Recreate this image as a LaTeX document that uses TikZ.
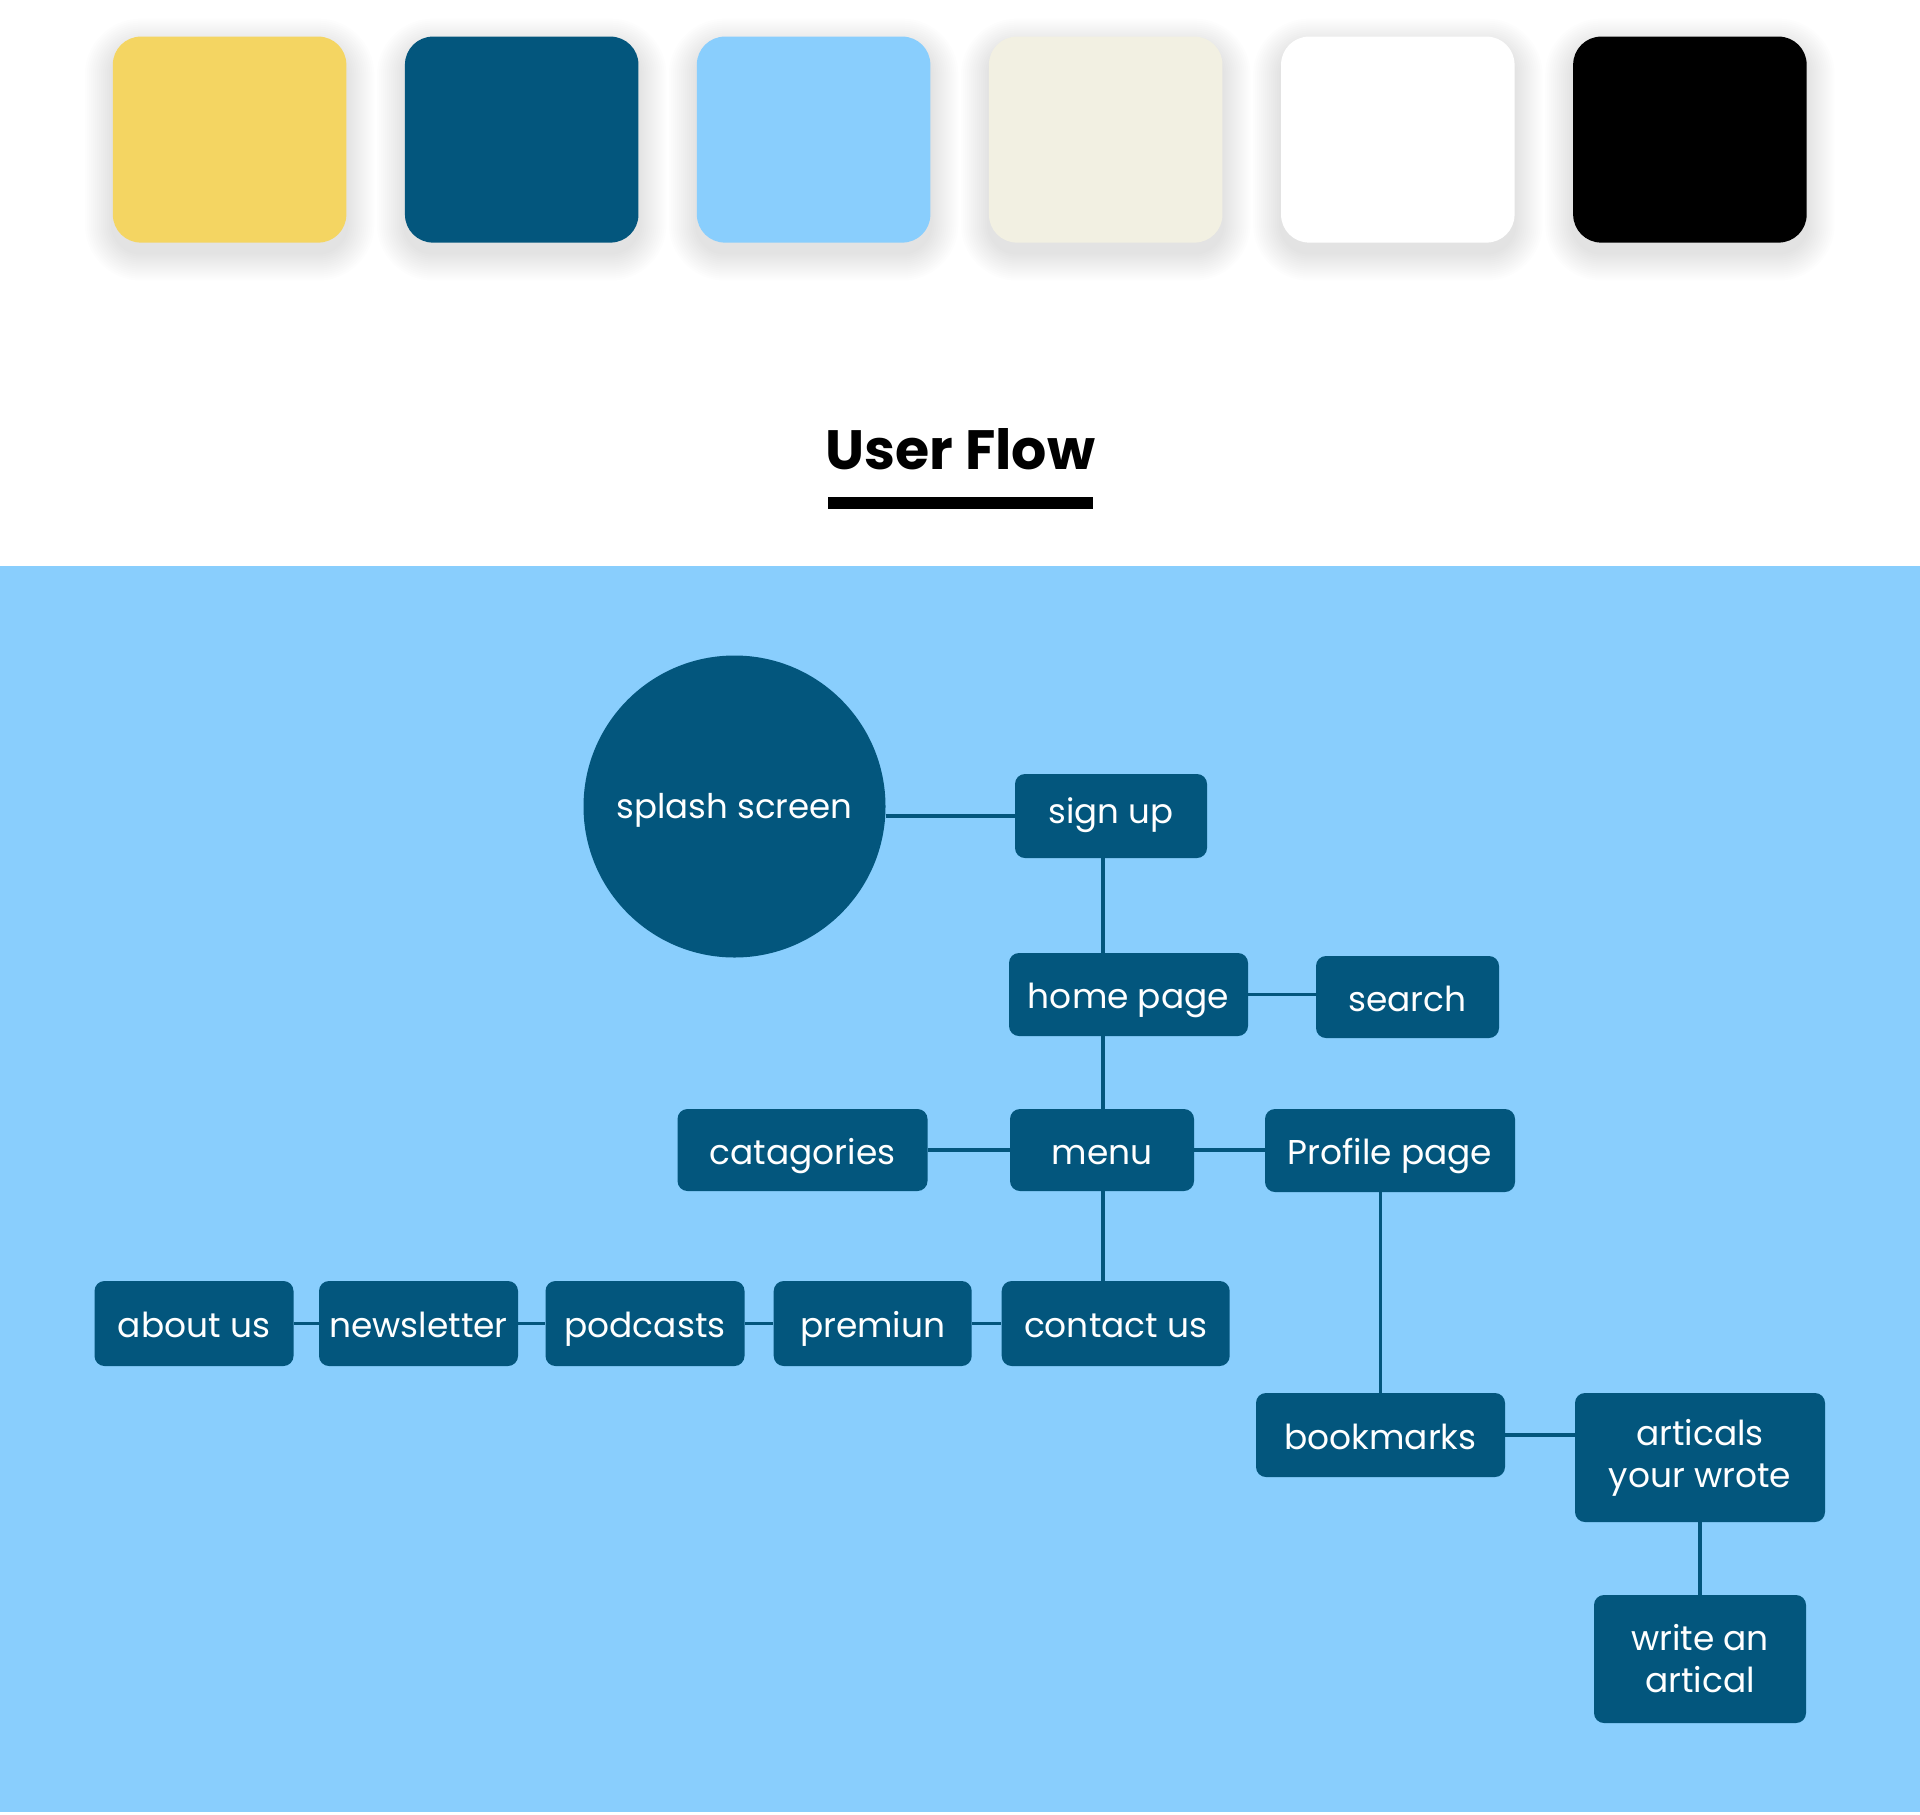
\documentclass[tikz,border=0pt]{standalone}
\usepackage{fontspec}
\setmainfont{Poppins}
\definecolor{nodeblue}{HTML}{03567D}
\definecolor{bgblue}{HTML}{89CEFD}
\definecolor{swyellow}{HTML}{F4D562}
\definecolor{swcream}{HTML}{F2F0E2}
\tikzset{
  swatch/.style={rectangle, rounded corners=14pt, minimum width=116.75pt, minimum height=103pt, inner sep=0pt},
  box/.style={rectangle, rounded corners=5pt, fill=nodeblue, text=white, inner sep=0pt, align=center,
    font=\fontsize{17.2}{21}\selectfont},
  oneline/.style={text height=16pt, text depth=2pt},
  link/.style={draw=nodeblue, line width=1.75pt}
}
\begin{document}
\begin{tikzpicture}[x=0.5pt, y=-0.5pt]
\useasboundingbox (0,0) rectangle (1920,1814);
\fill[white] (0,0) rectangle (1920,1814);
% palette shadows
\foreach \cx in {229.6,521.7,813.6,1105.7,1397.8,1689.9}{
  \foreach \i in {1,...,14}{
    \fill[black, opacity=0.0085, rounded corners={14pt+\i pt}]
      ({\cx-116.75-\i*2},{139.6-103+10-\i*2}) rectangle ({\cx+116.75+\i*2},{139.6+103+10+\i*2});
  }
}
% palette
\node[swatch, fill=swyellow] (sw1) at (229.6,139.6) {};
\node[swatch, fill=nodeblue] (sw2) at (521.7,139.6) {};
\node[swatch, fill=bgblue]   (sw3) at (813.6,139.6) {};
\node[swatch, fill=swcream]  (sw4) at (1105.7,139.6) {};
\node[swatch, fill=white]    (sw5) at (1397.8,139.6) {};
\node[swatch, fill=black]    (sw6) at (1689.9,139.6) {};
% title
\node[anchor=base, font=\fontsize{27.7}{30}\selectfont\bfseries] (title) at (960.5,469) {User Flow};
\fill[black] (828,497) rectangle (1093,509);
% background
\fill[bgblue] (0,566) rectangle (1920,1812);
% nodes
\node[circle, fill=nodeblue, text=white, minimum size=151pt, inner sep=0pt, text height=14pt, text depth=2.2pt,
  font=\fontsize{17}{21}\selectfont] (splash) at (734.5,806.5) {splash screen};
\node[box, text height=12pt, text depth=5pt, font=\fontsize{17}{21}\selectfont, minimum width=96pt, minimum height=42pt] (signup) at (1111,816) {sign up};
\node[box, oneline, minimum width=119.5pt, minimum height=41.5pt] (home) at (1128.5,994.5) {home page};
\node[box, oneline, minimum width=91.5pt, minimum height=41pt] (search) at (1407.5,997) {search};
\node[box, oneline, minimum width=125pt, minimum height=41pt] (catag) at (802.5,1150) {catagories};
\node[box, oneline, minimum width=92pt, minimum height=41pt] (menu) at (1102,1150) {menu};
\node[box, oneline, minimum width=125pt, minimum height=41.5pt] (profile) at (1390,1150.5) {Profile page};
\node[box, oneline, minimum width=99.5pt, minimum height=42.5pt] (about) at (194,1323.5) {about us};
\node[box, oneline, minimum width=99.5pt, minimum height=42.5pt] (news) at (418.5,1323.5) {newsletter};
\node[box, oneline, minimum width=99.5pt, minimum height=42.5pt] (pod) at (645,1323.5) {podcasts};
\node[box, oneline, minimum width=99pt, minimum height=42.5pt] (prem) at (872.7,1323.5) {premiun};
\node[box, oneline, minimum width=114pt, minimum height=42.5pt] (contact) at (1115.7,1323.5) {contact us};
\node[box, oneline, minimum width=124.5pt, minimum height=42pt] (book) at (1380.5,1435) {bookmarks};
\node[box, minimum width=125pt, minimum height=64.5pt] (artic) at (1700,1457.5) {articals\\your wrote};
\node[box, minimum width=106pt, minimum height=64pt] (write) at (1700,1659) {write an\\artical};
\coordinate (vx) at (1103,0);
% connectors
\draw[link] (signup.west) -- (signup.west -| splash.east);
\draw[link] (signup.south -| vx) -- (home.north -| vx);
\draw[link] (home.east) -- (home.east -| search.west);
\draw[link] (home.south -| vx) -- (menu.north -| vx);
\draw[link] (catag.east) -- (menu.west);
\draw[link] (menu.east) -- (menu.east -| profile.west);
\draw[link] (menu.south -| vx) -- (contact.north -| vx);
\draw[link] (about.east) -- (news.west);
\draw[link] (news.east) -- (pod.west);
\draw[link] (pod.east) -- (prem.west);
\draw[link] (prem.east) -- (contact.west);
\draw[link] (book.north) -- (book.north |- profile.south);
\draw[link] (book.east) -- (book.east -| artic.west);
\draw[link] (artic.south) -- (write.north);
\end{tikzpicture}
\end{document}
